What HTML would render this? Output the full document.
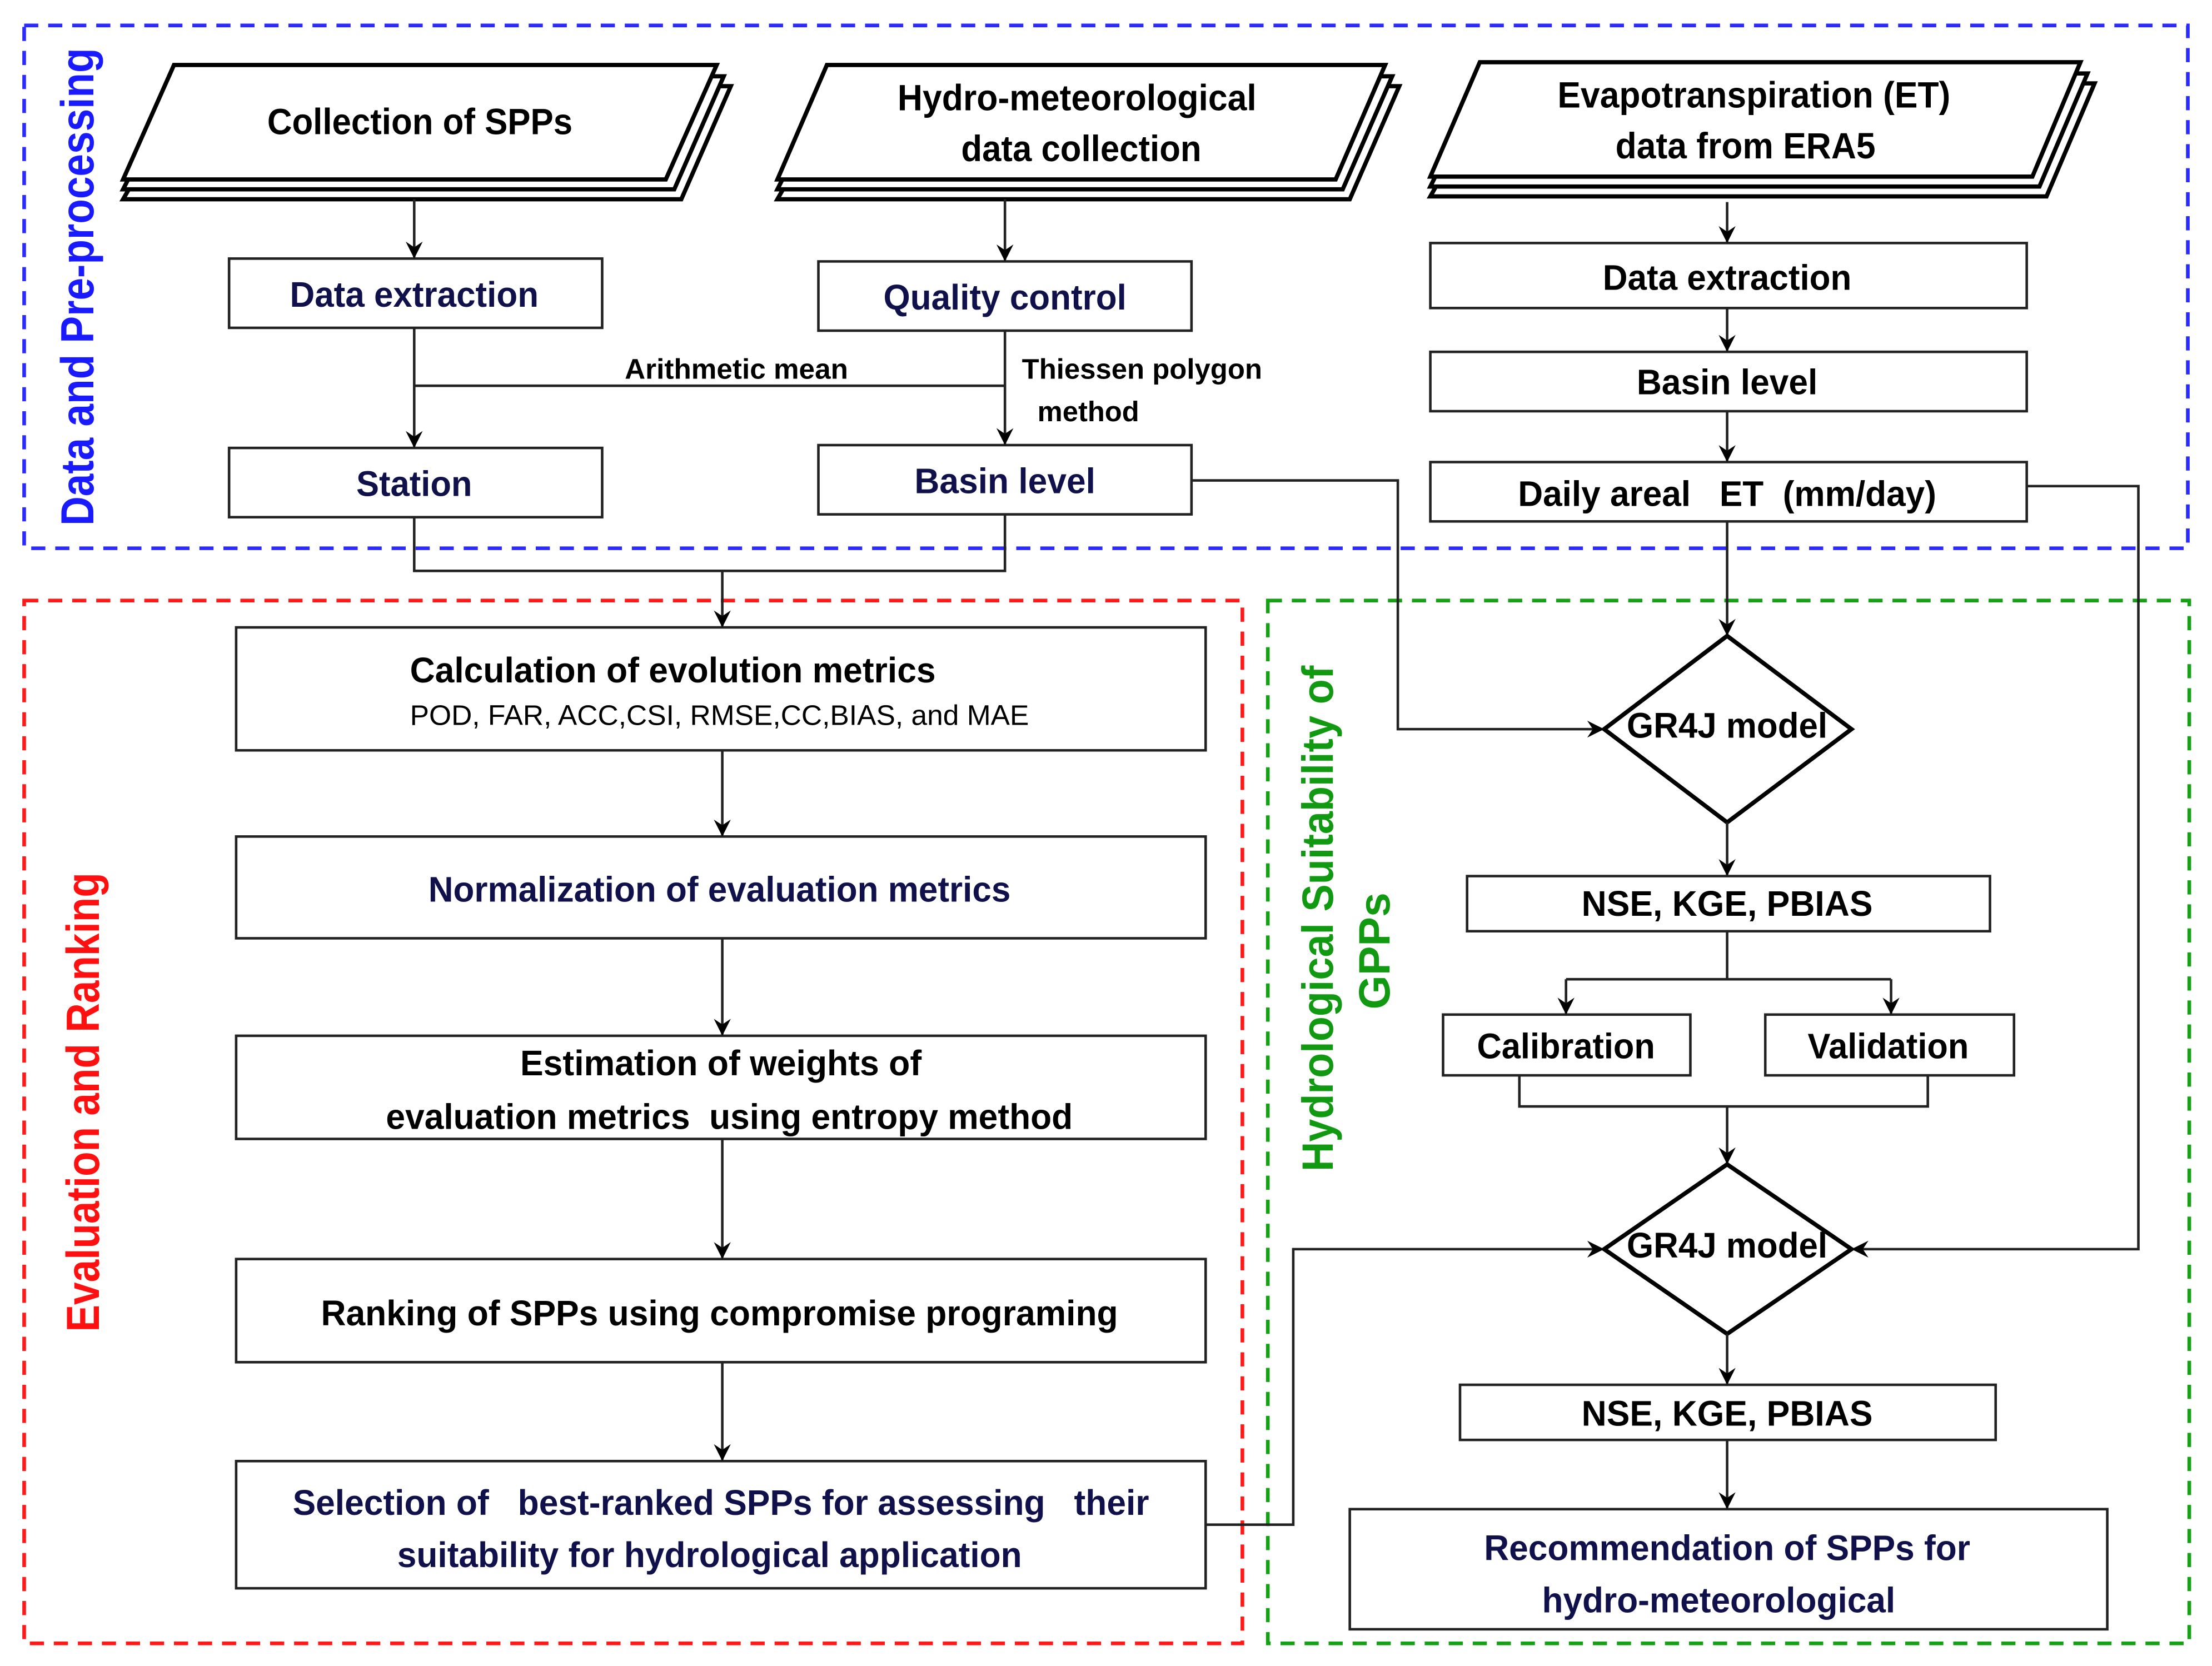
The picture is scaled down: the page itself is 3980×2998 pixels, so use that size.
<!DOCTYPE html>
<html><head><meta charset="utf-8"><style>
html,body{margin:0;padding:0;background:#fff;}
svg{display:block;}
text{font-family:"Liberation Sans Narrow","Liberation Sans",sans-serif;font-weight:bold;text-anchor:middle;}
</style></head><body>
<svg width="3980" height="2998" viewBox="0 0 1565 1179" xmlns="http://www.w3.org/2000/svg">
<defs>
<marker id="a" markerWidth="12" markerHeight="12" refX="11" refY="6" orient="auto" markerUnits="userSpaceOnUse">
<path d="M0,0 L12,6 L0,12 L4,6 z" fill="#000"/></marker>
</defs>
<rect width="1565" height="1179" fill="#fff"/>
<!-- group boxes -->
<rect x="17" y="18" width="1531" height="370" fill="none" stroke="#2b2bff" stroke-width="2.6" stroke-dasharray="10,7"/>
<rect x="17" y="425" width="862" height="738" fill="none" stroke="#ff1a1a" stroke-width="2.6" stroke-dasharray="10,7"/>
<rect x="897" y="425" width="652" height="738" fill="none" stroke="#16a016" stroke-width="2.6" stroke-dasharray="10,7"/>
<text transform="translate(66,203) rotate(-90)" font-size="33" fill="#1a1aff" style="font-family:'Liberation Sans',sans-serif" textLength="338" lengthAdjust="spacingAndGlyphs">Data and Pre-processing</text>
<text transform="translate(70,780) rotate(-90)" font-size="33" fill="#ff1010" style="font-family:'Liberation Sans',sans-serif" textLength="325" lengthAdjust="spacingAndGlyphs">Evaluation and Ranking</text>
<text transform="translate(943,650) rotate(-90)" font-size="31" fill="#119911" style="font-family:'Liberation Sans',sans-serif" textLength="358" lengthAdjust="spacingAndGlyphs">Hydrological Suitability of</text>
<text transform="translate(983,673) rotate(-90)" font-size="31" fill="#119911" style="font-family:'Liberation Sans',sans-serif">GPPs</text>

<!-- parallelograms -->
<g fill="#fff" stroke="#000" stroke-width="3">
<polygon points="133,61 517,61 482,141 87,141"/>
<polygon points="128,54 512,54 477,134 87,134"/>
<polygon points="123,46 507,46 471,127 87,127"/>
<polygon points="595,61 990,61 955,141 550,141"/>
<polygon points="590,54 985,54 950,134 550,134"/>
<polygon points="585,46 980,46 945,127 550,127"/>
<polygon points="1057,59 1482,59 1448,139 1012,139"/>
<polygon points="1052,52 1477,52 1443,132 1012,132"/>
<polygon points="1047,44 1472,44 1438,125 1012,125"/>
</g>
<text x="297" y="95" font-size="26" textLength="216" lengthAdjust="spacingAndGlyphs">Collection of SPPs</text>
<text x="762" y="78" font-size="26" textLength="254" lengthAdjust="spacingAndGlyphs">Hydro-meteorological</text>
<text x="765" y="114" font-size="26" textLength="170" lengthAdjust="spacingAndGlyphs">data collection</text>
<text x="1241" y="76" font-size="26" textLength="278" lengthAdjust="spacingAndGlyphs">Evapotranspiration (ET)</text>
<text x="1235" y="112" font-size="26" textLength="184" lengthAdjust="spacingAndGlyphs">data from ERA5</text>

<!-- boxes -->
<g fill="#fff" stroke="#222" stroke-width="1.8">
<rect x="162" y="183" width="264" height="49"/>
<rect x="162" y="317" width="264" height="49"/>
<rect x="579" y="185" width="264" height="49"/>
<rect x="579" y="315" width="264" height="49"/>
<rect x="1012" y="172" width="422" height="46"/>
<rect x="1012" y="249" width="422" height="42"/>
<rect x="1012" y="327" width="422" height="42"/>
<rect x="167" y="444" width="686" height="87"/>
<rect x="167" y="592" width="686" height="72"/>
<rect x="167" y="733" width="686" height="73"/>
<rect x="167" y="891" width="686" height="73"/>
<rect x="167" y="1034" width="686" height="90"/>
<rect x="1038" y="620" width="370" height="39"/>
<rect x="1021" y="718" width="175" height="43"/>
<rect x="1249" y="718" width="176" height="43"/>
<rect x="1033" y="980" width="379" height="39"/>
<rect x="955" y="1068" width="536" height="85"/>
</g>
<g fill="#fff" stroke="#000" stroke-width="3">
<polygon points="1222,450 1310,516 1222,582 1135,516"/>
<polygon points="1222,824 1310,884 1222,944 1135,884"/>
</g>

<!-- connectors -->
<g fill="none" stroke="#222" stroke-width="1.8">
<path d="M293,141 V182" marker-end="url(#a)"/>
<path d="M293,232 V316" marker-end="url(#a)"/>
<path d="M293,273 H711"/>
<path d="M711,141 V184" marker-end="url(#a)"/>
<path d="M711,234 V314" marker-end="url(#a)"/>
<path d="M293,366 V404 H711 V364"/>
<path d="M511,404 V443" marker-end="url(#a)"/>
<path d="M1222,143 V171" marker-end="url(#a)"/>
<path d="M1222,218 V248" marker-end="url(#a)"/>
<path d="M1222,291 V326" marker-end="url(#a)"/>
<path d="M1222,369 V449" marker-end="url(#a)"/>
<path d="M843,340 H989 V516 H1134" marker-end="url(#a)"/>
<path d="M1434,344 H1513 V884 H1311" marker-end="url(#a)"/>
<path d="M1222,582 V619" marker-end="url(#a)"/>
<path d="M1222,659 V693"/>
<path d="M1108,693 H1338"/>
<path d="M1108,693 V717" marker-end="url(#a)"/>
<path d="M1338,693 V717" marker-end="url(#a)"/>
<path d="M1075,761 V783 H1364 V761"/>
<path d="M1222,783 V823" marker-end="url(#a)"/>
<path d="M1222,944 V979" marker-end="url(#a)"/>
<path d="M1222,1019 V1067" marker-end="url(#a)"/>
<path d="M853,1079 H915 V884 H1134" marker-end="url(#a)"/>
<path d="M511,531 V591" marker-end="url(#a)"/>
<path d="M511,664 V732" marker-end="url(#a)"/>
<path d="M511,806 V890" marker-end="url(#a)"/>
<path d="M511,964 V1033" marker-end="url(#a)"/>
</g>

<!-- labels -->
<g fill="#10104a">
<text x="293" y="217" font-size="25" textLength="176" lengthAdjust="spacingAndGlyphs">Data extraction</text>
<text x="293" y="351" font-size="25" textLength="82" lengthAdjust="spacingAndGlyphs">Station</text>
<text x="711" y="219" font-size="25" textLength="172" lengthAdjust="spacingAndGlyphs">Quality control</text>
<text x="711" y="349" font-size="25" textLength="128" lengthAdjust="spacingAndGlyphs">Basin level</text>
<text x="509" y="638" font-size="25" textLength="412" lengthAdjust="spacingAndGlyphs">Normalization of evaluation metrics</text>
<text x="510" y="1072" font-size="25" textLength="606" lengthAdjust="spacingAndGlyphs" xml:space="preserve">Selection of   best-ranked SPPs for assessing   their</text>
<text x="502" y="1109" font-size="25" textLength="442" lengthAdjust="spacingAndGlyphs">suitability for hydrological application</text>
<text x="1222" y="1104" font-size="25" textLength="344" lengthAdjust="spacingAndGlyphs">Recommendation of SPPs for</text>
<text x="1216" y="1141" font-size="25" textLength="250" lengthAdjust="spacingAndGlyphs">hydro-meteorological</text>
</g>
<g fill="#000">
<text x="521" y="268" font-size="20" textLength="158" lengthAdjust="spacingAndGlyphs">Arithmetic mean</text>
<text x="808" y="268" font-size="20" textLength="170" lengthAdjust="spacingAndGlyphs">Thiessen polygon</text>
<text x="770" y="298" font-size="20" textLength="72" lengthAdjust="spacingAndGlyphs">method</text>
<text x="1222" y="205" font-size="25" textLength="176" lengthAdjust="spacingAndGlyphs">Data extraction</text>
<text x="1222" y="279" font-size="25" textLength="128" lengthAdjust="spacingAndGlyphs">Basin level</text>
<text x="1222" y="358" font-size="25" textLength="296" lengthAdjust="spacingAndGlyphs" xml:space="preserve">Daily areal   ET  (mm/day)</text>
<text x="1222" y="522" font-size="25" textLength="142" lengthAdjust="spacingAndGlyphs">GR4J model</text>
<text x="1222" y="890" font-size="25" textLength="142" lengthAdjust="spacingAndGlyphs">GR4J model</text>
<text x="1222" y="648" font-size="25" textLength="206" lengthAdjust="spacingAndGlyphs">NSE, KGE, PBIAS</text>
<text x="1108" y="749" font-size="25" textLength="126" lengthAdjust="spacingAndGlyphs">Calibration</text>
<text x="1336" y="749" font-size="25" textLength="114" lengthAdjust="spacingAndGlyphs">Validation</text>
<text x="1222" y="1009" font-size="25" textLength="206" lengthAdjust="spacingAndGlyphs">NSE, KGE, PBIAS</text>
<text x="476" y="483" font-size="25" textLength="372" lengthAdjust="spacingAndGlyphs">Calculation of evolution metrics</text>
<text x="509" y="513" font-size="20" style="font-weight:normal" textLength="438" lengthAdjust="spacingAndGlyphs">POD, FAR, ACC,CSI, RMSE,CC,BIAS, and MAE</text>
<text x="510" y="761" font-size="25" textLength="284" lengthAdjust="spacingAndGlyphs">Estimation of weights of</text>
<text x="516" y="799" font-size="25" textLength="486" lengthAdjust="spacingAndGlyphs" xml:space="preserve">evaluation metrics  using entropy method</text>
<text x="509" y="938" font-size="25" textLength="564" lengthAdjust="spacingAndGlyphs">Ranking of SPPs using compromise programing</text>
</g>
</svg>
</body></html>
